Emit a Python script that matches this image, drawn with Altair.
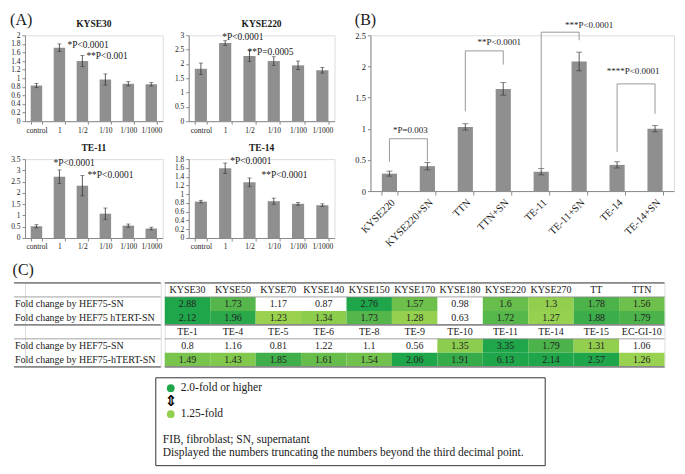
import altair as alt
import pandas as pd

SERIF = "Liberation Serif"
BAR = "#8f8f8f"
AXIS = "#8a8a8a"
INK = "#1a1a1a"
ERR = "#333333"

# ---------------- Panel A data ----------------
dose = ["control", "1", "1/2", "1/10", "1/100", "1/1000"]

kyse30_mean = [0.83, 1.71, 1.40, 0.97, 0.87, 0.86]
kyse30_err = [0.05, 0.09, 0.13, 0.13, 0.05, 0.04]
kyse30_ticks = [0, 0.2, 0.4, 0.6, 0.8, 1, 1.2, 1.4, 1.6, 1.8, 2]
kyse30_notes = ["*P<0.0001", "**P<0.001"]
kyse30_note_dose = ["1", "1/2"]
kyse30_note_y = [1.78, 1.52]

kyse220_mean = [1.83, 2.73, 2.28, 2.10, 1.95, 1.78]
kyse220_err = [0.20, 0.08, 0.20, 0.15, 0.15, 0.10]
kyse220_ticks = [0, 0.5, 1, 1.5, 2, 2.5, 3]
kyse220_notes = ["*P<0.0001", "**P=0.0005"]
kyse220_note_dose = ["1", "1/2"]
kyse220_note_y = [2.93, 2.43]

te11_mean = [0.52, 2.72, 2.32, 1.08, 0.55, 0.42]
te11_err = [0.07, 0.30, 0.45, 0.25, 0.07, 0.06]
te11_ticks = [0, 0.5, 1, 1.5, 2, 2.5, 3, 3.5]
te11_notes = ["*P<0.0001", "**P<0.0001"]
te11_note_dose = ["1", "1/2"]
te11_note_y = [3.33, 2.80]

te14_mean = [0.83, 1.59, 1.27, 0.84, 0.78, 0.75]
te14_err = [0.03, 0.12, 0.10, 0.07, 0.03, 0.03]
te14_ticks = [0, 0.2, 0.4, 0.6, 0.8, 1, 1.2, 1.4, 1.6, 1.8]
te14_notes = ["*P<0.0001", "**P<0.0001"]
te14_note_dose = ["1", "1/2"]
te14_note_y = [1.75, 1.43]

# ---------------- Panel B data ----------------
lines_b = ["KYSE220", "KYSE220+SN", "TTN", "TTN+SN", "TE-11", "TE-11+SN", "TE-14", "TE-14+SN"]
b_mean = [0.28, 0.40, 1.03, 1.64, 0.31, 2.08, 0.42, 1.00]
b_err = [0.04, 0.06, 0.05, 0.10, 0.05, 0.15, 0.05, 0.05]
b_ticks = [0, 0.5, 1, 1.5, 2, 2.5]
bracket_left = ["KYSE220", "TTN", "TE-11", "TE-14"]
bracket_right = ["KYSE220+SN", "TTN+SN", "TE-11+SN", "TE-14+SN"]
bracket_top = [0.84, 2.25, 2.55, 1.72]
bracket_left_low = [0.47, 1.28, 0.37, 0.63]
bracket_right_low = [0.48, 2.03, 2.42, 1.24]
bracket_label = ["*P=0.003", "**P<0.0001", "***P<0.0001", "****P<0.0001"]
bracket_label_y = [0.98, 2.39, 2.67, 1.92]

# ---------------- Panel C data ----------------
lines_c1 = ["KYSE30", "KYSE50", "KYSE70", "KYSE140", "KYSE150", "KYSE170",
            "KYSE180", "KYSE220", "KYSE270", "TT", "TTN"]
hef_c1 = [2.88, 1.73, 1.17, 0.87, 2.76, 1.57, 0.98, 1.6, 1.3, 1.78, 1.56]
tert_c1 = [2.12, 1.96, 1.23, 1.34, 1.73, 1.28, 0.63, 1.72, 1.27, 1.88, 1.79]
lines_c2 = ["TE-1", "TE-4", "TE-5", "TE-6", "TE-8", "TE-9", "TE-10",
            "TE-11", "TE-14", "TE-15", "EC-GI-10"]
hef_c2 = [0.8, 1.16, 0.81, 1.22, 1.1, 0.56, 1.35, 3.35, 1.79, 1.31, 1.06]
tert_c2 = [1.49, 1.43, 1.85, 1.61, 1.54, 2.06, 1.91, 6.13, 2.14, 2.57, 1.26]
row_labels = ["", "Fold change by  HEF75-SN", "Fold change by HEF75 hTERT-SN",
              "", "Fold change by  HEF75-SN", "Fold change by HEF75-hTERT-SN"]

legend_labels = ["2.0-fold or higher", "1.25-fold"]
legend_colors = ["#1fa64a", "#92d050"]
legend_rows = [0, 2]
note_lines = ["FIB, fibroblast; SN, supernatant",
              "Displayed the numbers truncating the numbers beyond the third decimal point."]
note_rows = [4, 5]


# ---------------- Panel A ----------------
def a_panel(name, mean, err, ticks, notes, note_dose, note_y, note_dx, w, h):
    df = pd.DataFrame({"dose": dose, "mean": mean,
                       "lo": [m - e for m, e in zip(mean, err)],
                       "hi": [m + e for m, e in zip(mean, err)]})
    xscale = alt.Scale(domain=dose, paddingInner=0.5, paddingOuter=0.25)
    xenc = alt.X("dose:N", sort=dose, title=None, scale=xscale,
                 axis=alt.Axis(labelAngle=0, labelFont=SERIF, labelFontSize=7.5, labelColor=INK,
                               domainColor=AXIS, tickColor=AXIS, tickBand="extent",
                               tickSize=3, labelPadding=2))
    yscale = alt.Scale(domain=[ticks[0], ticks[-1]], nice=False)
    yaxis = alt.Axis(values=ticks, tickCount=len(ticks), format="~g", grid=False, labelFont=SERIF,
                     labelFontSize=7.5, labelColor=INK, domainColor=AXIS, tickColor=AXIS, tickSize=3,
                     labelPadding=2, labelOverlap=False)
    xs = alt.X("dose:N", sort=dose, title=None)
    base = alt.Chart(df)
    layers = [
        base.mark_bar(color=BAR).encode(x=xenc, y=alt.Y("mean:Q", title=None, scale=yscale, axis=yaxis)),
        base.mark_rule(color=ERR, strokeWidth=0.8).encode(x=xs, y=alt.Y("lo:Q", title=None), y2="hi:Q"),
        base.mark_tick(orient="horizontal", size=4, thickness=0.8, color=ERR).encode(
            x=xs, y=alt.Y("lo:Q", title=None)),
        base.mark_tick(orient="horizontal", size=4, thickness=0.8, color=ERR).encode(
            x=xs, y=alt.Y("hi:Q", title=None)),
    ]
    for t, d, yv, dx in zip(notes, note_dose, note_y, note_dx):
        ndf = pd.DataFrame({"dose": [d], "y": [yv], "t": [t]})
        layers.append(alt.Chart(ndf).mark_text(align="left", baseline="middle", dx=dx, font=SERIF,
                                               fontSize=9.5, color=INK).encode(
            x=xs, y=alt.Y("y:Q", title=None), text="t:N"))
    return alt.layer(*layers).properties(
        width=w, height=h,
        title=alt.TitleParams(name, font=SERIF, fontSize=9.5, fontWeight="bold", color=INK, offset=3))


p1 = a_panel("KYSE30", kyse30_mean, kyse30_err, kyse30_ticks, kyse30_notes, kyse30_note_dose,
             kyse30_note_y, [8, 4], 138, 86)
p2 = a_panel("KYSE220", kyse220_mean, kyse220_err, kyse220_ticks, kyse220_notes, kyse220_note_dose,
             kyse220_note_y, [-3, -2], 146, 86)
p3 = a_panel("TE-11", te11_mean, te11_err, te11_ticks, te11_notes, te11_note_dose,
             te11_note_y, [-6, 5], 138, 79)
p4 = a_panel("TE-14", te14_mean, te14_err, te14_ticks, te14_notes, te14_note_dose,
             te14_note_y, [5, 12], 146, 79)

panel_a = alt.vconcat(alt.hconcat(p1, p2, spacing=10), alt.hconcat(p3, p4, spacing=10), spacing=8).properties(
    title=alt.TitleParams("(A)", anchor="start", font=SERIF, fontSize=16, fontWeight="normal",
                          color=INK, offset=-10))

# ---------------- Panel B ----------------
bdf = pd.DataFrame({"line": lines_b, "mean": b_mean,
                    "lo": [m - e for m, e in zip(b_mean, b_err)],
                    "hi": [m + e for m, e in zip(b_mean, b_err)]})
xb_main = alt.X("line:N", sort=lines_b, title=None,
                scale=alt.Scale(domain=lines_b, paddingInner=0.6, paddingOuter=0.3),
                axis=alt.Axis(labelAngle=-45, labelFont=SERIF, labelFontSize=10.5, labelColor=INK,
                              domainColor=AXIS, tickColor=AXIS, tickBand="extent", tickSize=4,
                              labelPadding=2))
xb = alt.X("line:N", sort=lines_b, title=None)
yb = alt.Y("mean:Q", title=None, scale=alt.Scale(domain=[b_ticks[0], b_ticks[-1]], nice=False),
           axis=alt.Axis(values=b_ticks, tickCount=len(b_ticks), format="~g", grid=False,
                         labelFont=SERIF, labelOverlap=False, labelFontSize=8.5, labelColor=INK,
                         domainColor=AXIS, tickColor=AXIS, tickSize=3, labelPadding=2))
bbase = alt.Chart(bdf)
brdf = pd.DataFrame({"left": bracket_left, "right": bracket_right, "top": bracket_top,
                     "llow": bracket_left_low, "rlow": bracket_right_low})
BR = "#9a9a9a"
b_layers = [
    bbase.mark_bar(color=BAR).encode(x=xb_main, y=yb),
    bbase.mark_rule(color=ERR, strokeWidth=0.8).encode(x=xb, y=alt.Y("lo:Q", title=None), y2="hi:Q"),
    bbase.mark_tick(orient="horizontal", size=6, thickness=0.8, color=ERR).encode(
        x=xb, y=alt.Y("lo:Q", title=None)),
    bbase.mark_tick(orient="horizontal", size=6, thickness=0.8, color=ERR).encode(
        x=xb, y=alt.Y("hi:Q", title=None)),
    alt.Chart(brdf).mark_rule(color=BR, strokeWidth=1).encode(
        x=alt.X("left:N", title=None), x2="right:N", y=alt.Y("top:Q", title=None)),
    alt.Chart(brdf).mark_rule(color=BR, strokeWidth=1).encode(
        x=alt.X("left:N", title=None), y=alt.Y("llow:Q", title=None), y2="top:Q"),
    alt.Chart(brdf).mark_rule(color=BR, strokeWidth=1).encode(
        x=alt.X("right:N", title=None), y=alt.Y("rlow:Q", title=None), y2="top:Q"),
]
for r, lab, ly, dx in zip(bracket_right, bracket_label, bracket_label_y, [-17, -4, 10, -22]):
    ldf = pd.DataFrame({"line": [r], "y": [ly], "t": [lab]})
    b_layers.append(alt.Chart(ldf).mark_text(align="center", baseline="middle", dx=dx, font=SERIF,
                                             fontSize=9, color=INK).encode(
        x=xb, y=alt.Y("y:Q", title=None), text="t:N"))

panel_b = alt.layer(*b_layers).properties(
    width=304, height=156,
    title=alt.TitleParams("(B)", anchor="start", font=SERIF, fontSize=16, fontWeight="normal",
                          color=INK, offset=-7))

# ---------------- Panel C table ----------------
COLW = 45.5
TABLE_W = COLW * len(lines_c1)
LABEL_W = 136
LAB_SHIFT = 10
TABLE_H = 84
recs = []
for blk, (names, r1, r2) in enumerate([(lines_c1, hef_c1, tert_c1), (lines_c2, hef_c2, tert_c2)]):
    for i, nm in enumerate(names):
        recs.append({"col": i, "row": blk * 3, "text": nm, "v": None})
        recs.append({"col": i, "row": blk * 3 + 1, "text": str(r1[i]), "v": r1[i]})
        recs.append({"col": i, "row": blk * 3 + 2, "text": str(r2[i]), "v": r2[i]})
tdf = pd.DataFrame(recs)

row_scale = alt.Scale(domain=list(range(6)), paddingInner=0, paddingOuter=0)
ty = alt.Y("row:O", title=None, axis=None, scale=row_scale)
tx = alt.X("col:O", title=None, axis=None, scale=alt.Scale(paddingInner=0, paddingOuter=0))
tbase = alt.Chart(tdf)
cells = tbase.transform_filter("datum.v != null && datum.v >= 1.225").mark_rect().encode(
    x=tx, y=ty,
    color=alt.Color("v:Q", legend=None,
                    scale=alt.Scale(domain=[1.25, 2.0], range=["#9ad250", "#1fa64a"], clamp=True)))
texts = tbase.mark_text(font=SERIF, fontSize=10, color="#222", baseline="middle").encode(
    x=tx, y=alt.Y("row:O", title=None, axis=None), text="text:N")

rule_rows = [0, 1, 3, 4]
rule_w = [1.8, 0.8, 1.8, 0.8]


def table_rules(x0, x1):
    top_r = alt.Chart(pd.DataFrame({"row": rule_rows, "w": rule_w})).mark_rule(color="#8a8a8a").encode(
        y=alt.Y("row:O", bandPosition=0, title=None, axis=None),
        strokeWidth=alt.StrokeWidth("w:Q", scale=None), x=alt.value(x0), x2=alt.value(x1))
    bot_r = alt.Chart(pd.DataFrame({"row": [5], "w": [1.8]})).mark_rule(color="#8a8a8a").encode(
        y=alt.Y("row:O", bandPosition=1, title=None, axis=None),
        strokeWidth=alt.StrokeWidth("w:Q", scale=None), x=alt.value(x0), x2=alt.value(x1))
    return [top_r, bot_r]


cells_chart = alt.layer(cells, texts, *table_rules(0, TABLE_W)).properties(width=TABLE_W, height=TABLE_H)

lab_df = pd.DataFrame({"row": list(range(6)), "text": row_labels})
lab_text = alt.Chart(lab_df).mark_text(align="left", baseline="middle", font=SERIF, fontSize=10,
                                       color=INK).encode(
    x=alt.value(-LAB_SHIFT), y=alt.Y("row:O", title=None, axis=None, scale=row_scale), text="text:N")
labels_chart = alt.layer(lab_text, *table_rules(-LAB_SHIFT - 1, LABEL_W)).properties(
    width=LABEL_W, height=TABLE_H)

panel_c = alt.hconcat(labels_chart, cells_chart, spacing=0).properties(
    title=alt.TitleParams("(C)", anchor="start", font=SERIF, fontSize=16, fontWeight="normal",
                          color=INK, offset=4))

# ---------------- Legend box ----------------
LEG_OFF, LEG_W, LEG_H = 131, 390, 88
ly_scale = alt.Scale(domain=[-0.8, 5.97], reverse=True, nice=False, zero=False)
sw_df = pd.DataFrame({"row": legend_rows, "text": legend_labels, "color": legend_colors})
nt_df = pd.DataFrame({"row": note_rows, "text": note_lines})
ar_df = pd.DataFrame({"row": [1], "text": ["⇕"]})
leg_frame = alt.Chart(pd.DataFrame({"row": [0]})).mark_rect(
    fill="white", stroke="#333", strokeWidth=1).encode(
    x=alt.value(LEG_OFF), x2=alt.value(LEG_OFF + LEG_W), y=alt.value(0), y2=alt.value(LEG_H))
leg_circ = alt.Chart(sw_df).mark_circle(size=60, opacity=1).encode(
    x=alt.value(LEG_OFF + 15), y=alt.Y("row:Q", title=None, axis=None, scale=ly_scale),
    color=alt.Color("color:N", scale=None))
leg_txt = alt.Chart(sw_df).mark_text(align="left", baseline="middle", font=SERIF, fontSize=11.5,
                                     color=INK).encode(
    x=alt.value(LEG_OFF + 25), y=alt.Y("row:Q", title=None, axis=None), text="text:N")
leg_arrow = alt.Chart(ar_df).mark_text(baseline="middle", font="DejaVu Sans", fontSize=15,
                                       fontWeight="bold", color="#000").encode(
    x=alt.value(LEG_OFF + 15), y=alt.Y("row:Q", title=None, axis=None), text="text:N")
leg_notes = alt.Chart(nt_df).mark_text(align="left", baseline="middle", font=SERIF, fontSize=11.5,
                                       color=INK).encode(
    x=alt.value(LEG_OFF + 7), y=alt.Y("row:Q", title=None, axis=None), text="text:N")
legend_box = alt.layer(leg_frame, leg_circ, leg_txt, leg_arrow, leg_notes).properties(
    width=LEG_OFF + LEG_W, height=LEG_H,
    view=alt.ViewBackground(strokeOpacity=0, strokeWidth=0))

top = alt.hconcat(panel_a, panel_b, spacing=18)
bottom = alt.vconcat(panel_c, legend_box, spacing=8)
chart = alt.vconcat(top, bottom, spacing=10).properties(
    padding={"left": 2, "top": 2, "right": 2, "bottom": 2}, background="white"
).configure_view(stroke=None).configure(font=SERIF)

chart.save("out.html", embed_options={"renderer": "svg", "actions": False})
